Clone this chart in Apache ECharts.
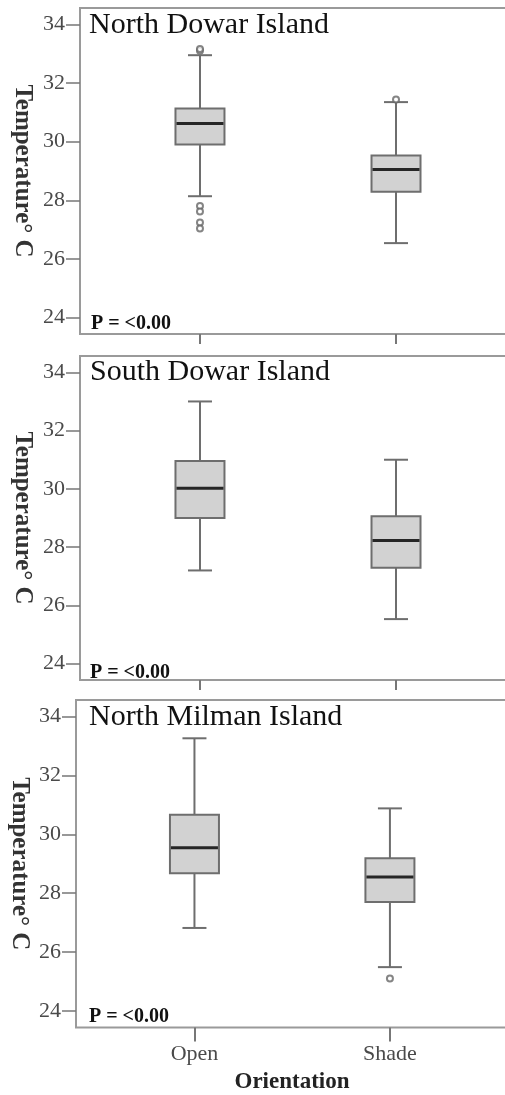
<!DOCTYPE html>
<html>
<head>
<meta charset="utf-8">
<script src="https://cdn.jsdelivr.net/npm/echarts@6/dist/echarts.min.js"></script>
<style>
html,body{margin:0;padding:0;background:#fff;}
#chart{width:505px;height:1095px;}
</style>
</head>
<body>
<div id="chart"></div>
<script>
// ---------- data ----------
const categories = ['Open', 'Shade'];
const yTickValues = [24, 26, 28, 30, 32, 34];
const panelNames = ['North Dowar Island', 'South Dowar Island', 'North Milman Island'];
const pValueText = 'P = <0.00';
const xAxisTitle = 'Orientation';
const yAxisTitle = 'Temperature\u00B0 C';

// box statistics: [lower whisker, Q1, median, Q3, upper whisker]
const northDowarOpen  = [28.14, 29.90, 30.62, 31.13, 32.95];
const northDowarShade = [26.54, 28.29, 29.05, 29.53, 31.35];
const southDowarOpen  = [27.20, 29.00, 30.02, 30.96, 33.00];
const southDowarShade = [25.53, 27.29, 28.23, 29.06, 31.00];
const northMilmanOpen  = [26.82, 28.68, 29.54, 30.66, 33.26];
const northMilmanShade = [25.49, 27.70, 28.55, 29.19, 30.88];

// outliers: [category, value]
const northDowarOutliers = [['Open', 33.10], ['Open', 33.16], ['Open', 27.81], ['Open', 27.62], ['Open', 27.24], ['Open', 27.04], ['Shade', 31.44]];
const southDowarOutliers = [];
const northMilmanOutliers = [['Shade', 25.10]];

// ---------- layout / style ----------
const panelBoxes = [
  [northDowarOpen, northDowarShade],
  [southDowarOpen, southDowarShade],
  [northMilmanOpen, northMilmanShade]
];
const panelOutliers = [northDowarOutliers, southDowarOutliers, northMilmanOutliers];
const layout = [
  { left: 80, top: 8,   height: 326,   width: 445, xMin: -0.612, xMax: 1.658, tickLen: 10, titleY: 25,  pY: 323.5, titleX: 89, pX: 91, nameGap: 45 },
  { left: 80, top: 356, height: 324,   width: 445, xMin: -0.612, xMax: 1.658, tickLen: 10, titleY: 372, pY: 672.5, titleX: 90, pX: 90, nameGap: 45 },
  { left: 76, top: 700, height: 327.5, width: 449, xMin: -0.606, xMax: 1.691, tickLen: 14, titleY: 717, pY: 1016.5, titleX: 89, pX: 89, nameGap: 44 }
];
const Y_MIN = 23.44, Y_MAX = 34.56;
const SERIF = 'Liberation Serif, Times New Roman, serif';

function renderBox(params, api) {
  const x = api.value(0);
  const lo = api.coord([x, api.value(1)]);
  const q1 = api.coord([x, api.value(2)]);
  const md = api.coord([x, api.value(3)]);
  const q3 = api.coord([x, api.value(4)]);
  const hi = api.coord([x, api.value(5)]);
  const half = 24.5, cap = 12;
  const wStyle = { stroke: '#6e6e6e', lineWidth: 2 };
  return {
    type: 'group',
    children: [
      { type: 'line', shape: { x1: lo[0], y1: lo[1], x2: lo[0], y2: q1[1] }, style: wStyle },
      { type: 'line', shape: { x1: hi[0], y1: hi[1], x2: hi[0], y2: q3[1] }, style: wStyle },
      { type: 'line', shape: { x1: lo[0] - cap, y1: lo[1], x2: lo[0] + cap, y2: lo[1] }, style: wStyle },
      { type: 'line', shape: { x1: hi[0] - cap, y1: hi[1], x2: hi[0] + cap, y2: hi[1] }, style: wStyle },
      { type: 'rect', shape: { x: q3[0] - half, y: q3[1], width: half * 2, height: q1[1] - q3[1] },
        style: { fill: '#d2d2d2', stroke: '#6e6e6e', lineWidth: 2 } },
      { type: 'line', shape: { x1: md[0] - half + 1, y1: md[1], x2: md[0] + half - 1, y2: md[1] },
        style: { stroke: '#262626', lineWidth: 3 } }
    ]
  };
}

const grids = [], xAxes = [], yAxes = [], series = [], graphics = [];
layout.forEach((L, i) => {
  const last = i === layout.length - 1;
  grids.push({ left: L.left, top: L.top, height: L.height, width: L.width, show: true,
    containLabel: false, outerBoundsMode: 'none',
    borderColor: '#9a9a9a', borderWidth: 2, backgroundColor: 'transparent' });
  xAxes.push({
    type: 'value', gridIndex: i, min: L.xMin, max: L.xMax, position: 'bottom',
    axisLine: { show: false, onZero: false }, splitLine: { show: false },
    axisTick: { show: true, customValues: [0, 1], length: L.tickLen, lineStyle: { color: '#777', width: 2 } },
    axisLabel: { show: last, customValues: [0, 1], margin: 16, formatter: v => categories[Math.round(v)],
      fontFamily: SERIF, fontSize: 22, color: '#4a4a4a' }
  });
  yAxes.push({
    type: 'value', gridIndex: i, min: Y_MIN, max: Y_MAX, position: 'left',
    axisLine: { show: false, onZero: false }, splitLine: { show: false },
    axisTick: { show: true, customValues: yTickValues, length: 14, lineStyle: { color: '#777', width: 1.5 } },
    axisLabel: { customValues: yTickValues, margin: 15, fontFamily: SERIF, fontSize: 22, color: '#4a4a4a' },
    name: yAxisTitle, nameLocation: 'middle', nameRotate: -90, nameGap: L.nameGap, nameMoveOverlap: false,
    nameTextStyle: { fontFamily: SERIF, fontSize: 25, fontWeight: 'bold', color: '#333' }
  });
  series.push({
    type: 'custom', xAxisIndex: i, yAxisIndex: i, renderItem: renderBox,
    encode: { x: 0, y: [1, 2, 3, 4, 5] },
    data: panelBoxes[i].map((s, k) => [k].concat(s))
  });
  series.push({
    type: 'scatter', xAxisIndex: i, yAxisIndex: i, symbol: 'emptyCircle', symbolSize: 6,
    itemStyle: { color: '#666', borderColor: '#666', borderWidth: 1.5 },
    data: panelOutliers[i].map(o => [categories.indexOf(o[0]), o[1]])
  });
  graphics.push({ type: 'text', x: L.titleX, y: L.titleY,
    style: { text: panelNames[i], fontFamily: SERIF, fontSize: 30, fill: '#111', align: 'left', verticalAlign: 'middle' } });
  graphics.push({ type: 'text', x: L.pX, y: L.pY,
    style: { text: pValueText, fontFamily: SERIF, fontSize: 20, fontWeight: 'bold', fill: '#111', align: 'left', verticalAlign: 'middle' } });
});
graphics.push({ type: 'text', x: 292, y: 1082.5,
  style: { text: xAxisTitle, fontFamily: SERIF, fontSize: 23, fontWeight: 'bold', fill: '#222', align: 'center', verticalAlign: 'middle' } });

const chart = echarts.init(document.getElementById('chart'));
chart.setOption({
  animation: false,
  backgroundColor: '#fff',
  grid: grids, xAxis: xAxes, yAxis: yAxes, series: series, graphic: graphics
});
</script>
</body>
</html>
